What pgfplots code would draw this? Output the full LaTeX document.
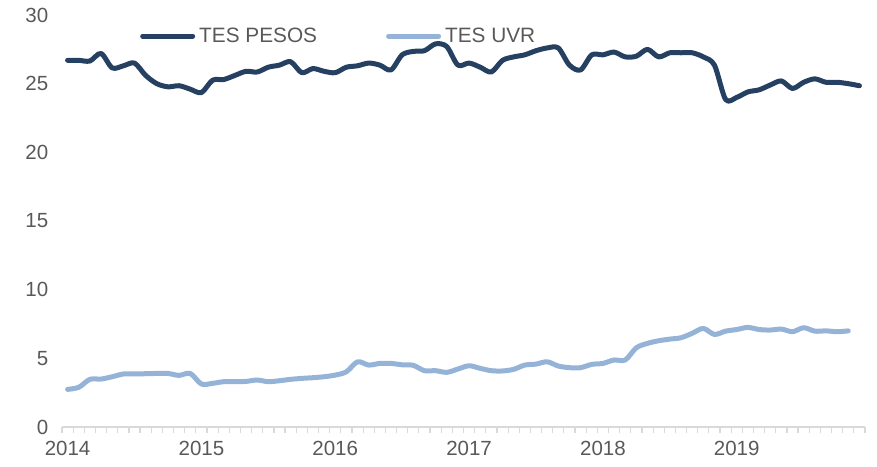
\documentclass[border=0pt]{standalone}
\usepackage{pgfplots}
\pgfplotsset{compat=1.18}
\usepackage{fontspec}
\setmainfont{Liberation Sans}
\definecolor{pesos}{HTML}{264062}
\definecolor{uvr}{HTML}{95B3D7}
\definecolor{txt}{HTML}{595959}
\definecolor{axl}{HTML}{D9D9D9}
\begin{document}
\begin{tikzpicture}
\path[use as bounding box] (-62pt,-39pt) rectangle (815pt,427pt);
\begin{axis}[
  scale only axis, width=803pt, height=412pt,
  xmin=-0.5, xmax=71.5, ymin=0, ymax=30,
  axis x line*=bottom, axis y line*=left,
  x axis line style={draw=axl, line width=1.2pt},
  y axis line style={draw=none},
  ytick={0,5,...,30}, ytick style={draw=none},
  xtick={0,12,24,36,48,60}, xticklabels={2014,2015,2016,2017,2018,2019},
  major x tick style={draw=none},
  minor xtick={-0.5,0.5,...,71.5},
  minor x tick style={draw=axl, line width=1.2pt},
  minor tick length=6pt,
  tick align=outside,
  /pgf/number format/assume math mode=true,
  ticklabel style={font=\fontsize{20.5}{24}\selectfont, text=txt},
  x tick label style={yshift=-6pt},
  y tick label style={xshift=-6pt},
  legend style={draw=none, fill=none, at={(0.0971,0.949)}, anchor=west, inner sep=0pt,
    font=\fontsize{20.8}{24}\selectfont, text=txt, legend columns=2,
    /tikz/every odd column/.append style={column sep=2pt},
    /tikz/every even column/.append style={column sep=67pt}},
  legend image code/.code={\draw[#1, line cap=round] (0pt,0pt) -- (50pt,0pt);},
  every axis plot/.append style={line width=5pt, smooth, tension=0.5, line cap=round, line join=round},
]
\addplot[pesos] coordinates {
(0,26.7)(1,26.7)(2,26.65)(3,27.2)(4,26.15)(5,26.3)(6,26.5)(7,25.6)(8,25.0)(9,24.77)
(10,24.85)(11,24.6)(12,24.35)(13,25.25)(14,25.3)(15,25.6)(16,25.9)(17,25.85)(18,26.2)(19,26.35)
(20,26.6)(21,25.8)(22,26.1)(23,25.9)(24,25.8)(25,26.2)(26,26.3)(27,26.5)(28,26.35)(29,26.0)
(30,27.1)(31,27.35)(32,27.4)(33,27.9)(34,27.7)(35,26.35)(36,26.5)(37,26.2)(38,25.85)(39,26.7)
(40,26.95)(41,27.1)(42,27.4)(43,27.6)(44,27.6)(45,26.35)(46,26.0)(47,27.1)(48,27.1)(49,27.3)
(50,26.95)(51,27.0)(52,27.5)(53,26.95)(54,27.25)(55,27.25)(56,27.25)(57,26.95)(58,26.35)(59,23.85)
(60,24.0)(61,24.4)(62,24.55)(63,24.9)(64,25.2)(65,24.65)(66,25.1)(67,25.35)(68,25.1)(69,25.1)
(70,25.0)(71,24.85)
};
\addlegendentry{TES PESOS}
\addplot[uvr] coordinates {
(0,2.74)(1,2.89)(2,3.47)(3,3.49)(4,3.66)(5,3.86)(6,3.86)(7,3.88)(8,3.9)(9,3.9)
(10,3.76)(11,3.9)(12,3.13)(13,3.18)(14,3.3)(15,3.3)(16,3.32)(17,3.42)(18,3.3)(19,3.37)
(20,3.47)(21,3.54)(22,3.59)(23,3.66)(24,3.78)(25,4.02)(26,4.75)(27,4.51)(28,4.63)(29,4.63)
(30,4.53)(31,4.49)(32,4.1)(33,4.1)(34,3.98)(35,4.22)(36,4.46)(37,4.27)(38,4.1)(39,4.08)
(40,4.2)(41,4.51)(42,4.58)(43,4.75)(44,4.44)(45,4.32)(46,4.32)(47,4.56)(48,4.63)(49,4.88)
(50,4.88)(51,5.77)(52,6.09)(53,6.28)(54,6.4)(55,6.5)(56,6.82)(57,7.18)(58,6.74)(59,6.98)
(60,7.1)(61,7.25)(62,7.1)(63,7.06)(64,7.13)(65,6.94)(66,7.23)(67,6.98)(68,7.0)(69,6.94)
(70,7.0)
};
\addlegendentry{TES UVR}
\end{axis}
\end{tikzpicture}
\end{document}
